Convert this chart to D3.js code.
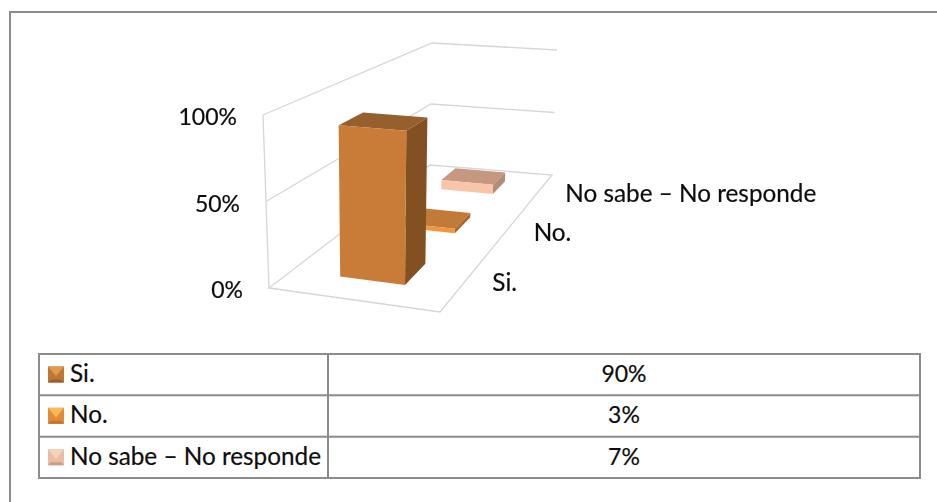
<!DOCTYPE html>
<html>
<head>
<meta charset="utf-8">
<script src="https://cdn.jsdelivr.net/npm/d3@7/dist/d3.min.js"></script>
<style>
html,body{margin:0;padding:0;background:#fff;overflow:hidden}
svg{display:block}
text{font-family:Lato,"Open Sans",sans-serif;fill:#0d0d0d;stroke:#0d0d0d;stroke-width:0.2px}
</style>
</head>
<body>
<svg id="chart" width="937" height="502"></svg>
<script>
// ---- data ----
const categories = ["Si.", "No.", "No sabe – No responde"];
const percentages = [90, 3, 7];
const valueLabels = ["90%", "3%", "7%"];
const yTicks = [0, 50, 100];

// ---- colours ----
const frontColors = ["#c97c38", "#f2953f", "#f9c5a9"];
const sideColors  = ["#835022", "#a9672c", "#b08c76"];
const topColors   = ["#95602d", "#c27a38", "#c69781"];
const swatchTop    = ["#e49a4c", "#f9b95c", "#f6d3bb"];
const swatchSide   = ["#bd7836", "#e38c38", "#e9bca3"];
const swatchBottom = ["#a15e28", "#bf7530", "#c79c88"];

// ---- scene layout ----
const floorQuad = [[269,288],[440,312],[552,175],[430,165]];
const topQuad   = [[263,115],[443,130],[557,50],[432,43]];
const fontSize = 24.3;
const numberSize = 23;

function homography(q){
  const [A,B,C,D] = q;
  const dx1=B[0]-C[0], dx2=D[0]-C[0], sx=A[0]-B[0]+C[0]-D[0];
  const dy1=B[1]-C[1], dy2=D[1]-C[1], sy=A[1]-B[1]+C[1]-D[1];
  const det=dx1*dy2-dx2*dy1;
  const g=(sx*dy2-dx2*sy)/det, h=(dx1*sy-sx*dy1)/det;
  const a=B[0]-A[0]+g*B[0], b=D[0]-A[0]+h*D[0];
  const d=B[1]-A[1]+g*B[1], e=D[1]-A[1]+h*D[1];
  return (u,v)=>{
    const w=g*u+h*v+1;
    return [(a*u+b*v+A[0])/w,(d*u+e*v+A[1])/w];
  };
}
const floorH = homography(floorQuad), topH = homography(topQuad);
const valueScale = d3.scaleLinear().domain([0,100]).range([0,1]);
const project = (u,d,val)=>{
  const f=floorH(u,d), t=topH(u,d), k=valueScale(val);
  return [f[0]+(t[0]-f[0])*k, f[1]+(t[1]-f[1])*k];
};
const widthScale = d3.scaleLinear().domain([0,1]).range([0.305,0.70]);
const depthScale = d3.scaleBand().domain(categories).range([0,1]).paddingInner(0.625).paddingOuter(0.3125);
const depthFront = c=>depthScale(c);
const depthBack  = c=>depthScale(c)+depthScale.bandwidth();
const labelDepth = c=>depthScale(c)+depthScale.bandwidth()/2;

const svg = d3.select("#chart");
const line = d3.line();

// ---- outer frame (only top and left edges are in view) ----
svg.append("path").attr("d","M10 502V12H937").attr("fill","none")
  .attr("stroke","#8c8c8c").attr("stroke-width",2);

// ---- plot ----
const plot = svg.append("g").style("filter","blur(0.45px)");
const grid = plot.append("g").attr("fill","none").attr("stroke","#d6d6d6").attr("stroke-width",1.3);
// floor
grid.append("path").attr("d",line([project(0,0,0),project(1,0,0),project(1,1,0),project(0,1,0)])+"Z");
// left-wall upright
grid.append("path").attr("d",line([project(0,0,0),project(0,0,100)]));
// gridlines on both walls
grid.selectAll("path.tick").data(yTicks.filter(t=>t>0)).join("path").attr("class","tick")
  .attr("d",t=>line([project(0,0,t),project(0,1,t),project(1,1,t)]));

// bars, far to near
const rows = categories.map((c,i)=>({c,v:percentages[i],i})).reverse();
const bars = plot.selectAll("g.bar").data(rows).join("g").attr("class","bar");
const U0=widthScale(0), U1=widthScale(1);
bars.append("path").attr("fill",r=>sideColors[r.i]).attr("d",r=>{
  const d0=depthFront(r.c), d1=depthBack(r.c);
  return line([project(U1,d0,0),project(U1,d1,0),project(U1,d1,r.v),project(U1,d0,r.v)])+"Z";
});
bars.append("path").attr("fill",r=>topColors[r.i]).attr("d",r=>{
  const d0=depthFront(r.c), d1=depthBack(r.c);
  return line([project(U0,d0,r.v),project(U1,d0,r.v),project(U1,d1,r.v),project(U0,d1,r.v)])+"Z";
});
bars.append("path").attr("fill",r=>frontColors[r.i]).attr("d",r=>{
  const d0=depthFront(r.c);
  return line([project(U0,d0,0),project(U1,d0,0),project(U1,d0,r.v),project(U0,d0,r.v)])+"Z";
});

// value axis labels
plot.selectAll("text.y").data(yTicks).join("text").attr("class","y")
  .attr("text-anchor","end").attr("font-size",numberSize)
  .attr("x",t=>project(0,0,t)[0]-26).attr("y",t=>project(0,0,t)[1]+10)
  .text(t=>t+"%");

// depth axis labels
plot.selectAll("text.cat").data(categories).join("text").attr("class","cat")
  .attr("font-size",fontSize)
  .attr("x",c=>project(1,labelDepth(c),0)[0]+26.5).attr("y",c=>project(1,labelDepth(c),0)[1]+11)
  .text(c=>c);

// ---- data table ----
const tableX=[39,328,920];
const rowY=d3.scaleBand().domain(categories).range([354,478]);
const table = svg.append("g");
const cells = table.selectAll("g.row").data(categories).join("g").attr("class","row")
  .attr("transform",c=>`translate(0,${rowY(c)})`);
const h=rowY.bandwidth();
table.append("rect").attr("x",tableX[0]).attr("y",354).attr("width",tableX[2]-tableX[0]).attr("height",124)
  .attr("fill","none").attr("stroke","#8c8c8c").attr("stroke-width",2);
table.selectAll("line.rowline").data(categories.slice(1)).join("line").attr("class","rowline")
  .attr("x1",tableX[0]).attr("x2",tableX[2]).attr("y1",c=>rowY(c)).attr("y2",c=>rowY(c))
  .attr("stroke","#8c8c8c").attr("stroke-width",2);
table.append("line").attr("x1",tableX[1]).attr("x2",tableX[1]).attr("y1",354).attr("y2",478)
  .attr("stroke","#8c8c8c").attr("stroke-width",2);

const S=16, sx=48, sy=12.5, inset=3;
const sw = cells.append("g").attr("transform",`translate(${sx},${sy})`).style("filter","blur(0.3px)");
sw.append("rect").attr("width",S).attr("height",S).attr("fill",(c,i)=>swatchSide[i]);
sw.append("path").attr("fill",(c,i)=>swatchTop[i])
  .attr("d",line([[0,0],[S,0],[S/2,S*0.6]])+"Z");
sw.append("path").attr("fill",(c,i)=>swatchBottom[i])
  .attr("d",line([[0,S],[S,S],[S-inset,S-inset],[inset,S-inset]])+"Z");
cells.append("text").attr("font-size",fontSize).attr("x",70).attr("y",h/2+7.5).text(c=>c);
cells.append("text").attr("font-size",numberSize).attr("text-anchor","middle")
  .attr("x",(tableX[1]+tableX[2])/2).attr("y",h/2+7.5).text((c,i)=>valueLabels[i]);
</script>
</body>
</html>
